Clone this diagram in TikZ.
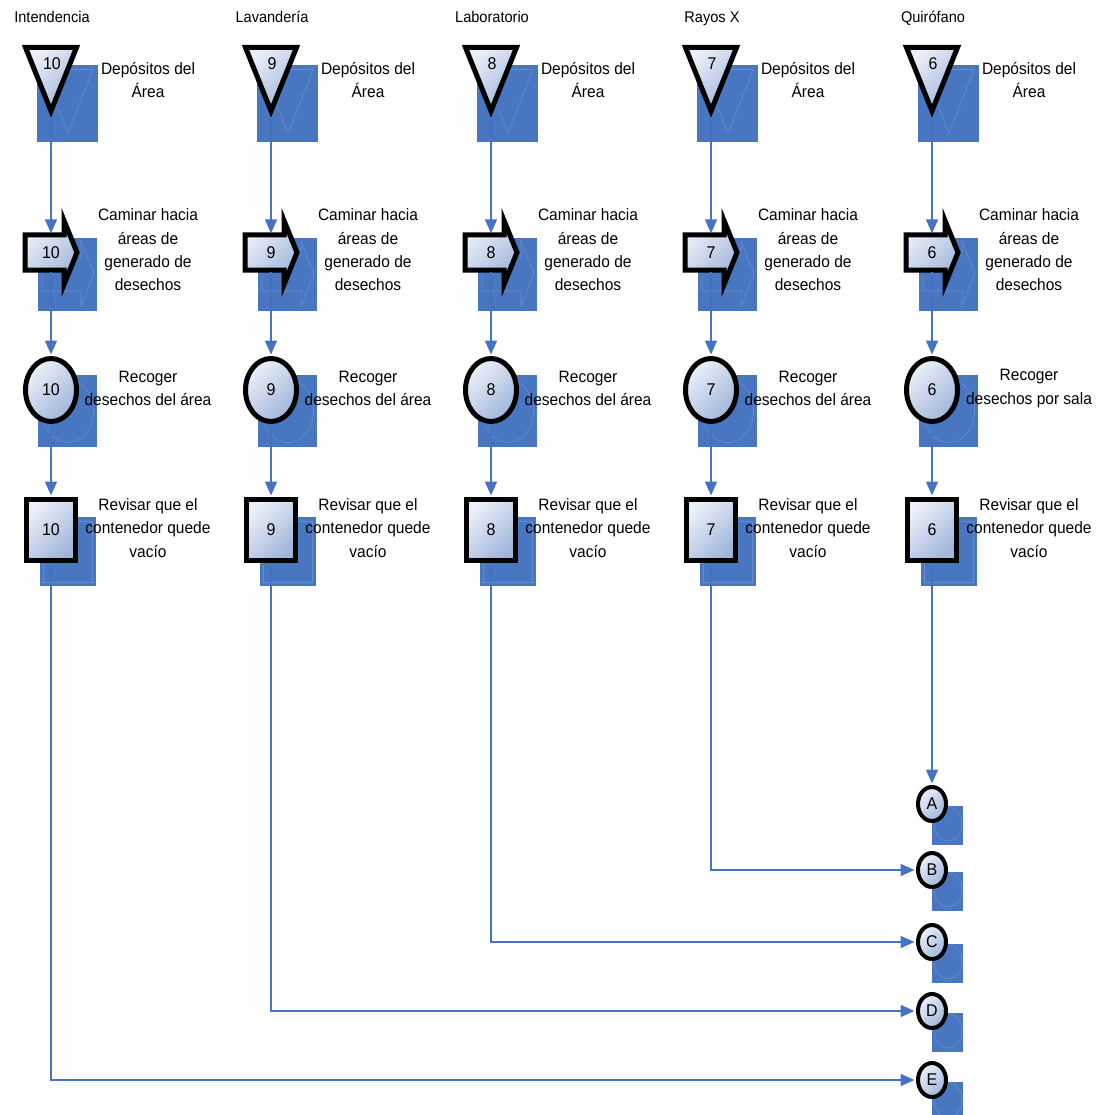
\documentclass[tikz,border=0pt]{standalone}
\usepackage{fontspec}
\setmainfont[FakeStretch=0.94]{Liberation Sans}
\usetikzlibrary{arrows.meta,shapes.geometric}
\definecolor{flowblue}{RGB}{70,114,196}
\definecolor{backblue}{RGB}{72,118,192}
\definecolor{nodelight}{RGB}{236,241,249}
\definecolor{nodedark}{RGB}{160,181,218}
\tikzset{>/.tip={Triangle[length=14pt,width=12pt]},
  flow/.style={->,draw=flowblue,line width=1.8pt,shorten >=1.5pt,shorten <=1.5pt},
  bodyshade/.style={top color=nodelight,bottom color=nodedark,shading angle=45},
  shapeline/.style={draw=black,line width=5pt,bodyshade},
  backrect/.style={fill=backblue},
  ghost/.style={draw=white,opacity=.18,line width=.6pt},
  hdr/.style={anchor=base,font=\fontsize{15.5}{18}\selectfont},
  lbl/.style={align=center,font=\fontsize{16.5}{23.3}\selectfont},
  num/.style={inner sep=0pt,font=\fontsize{17}{20}\selectfont},
  endcirc/.style={ellipse,draw=black,line width=4pt,bodyshade,minimum width=28,minimum height=34,inner sep=0pt,font=\fontsize{17}{20}\selectfont}}

\begin{document}
\begin{tikzpicture}[x=1pt,y=-1pt]
\useasboundingbox (0,0) rectangle (1103,1115);

% one column per area
\foreach \x/\n/\i/\area/\what in {51/10/1/Intendencia/{desechos del área},
    271/9/2/Lavandería/{desechos del área}, 491/8/3/Laboratorio/{desechos del área},
    711/7/4/Rayos X/{desechos del área}, 932/6/5/Quirófano/{desechos por sala}} {
  \begin{scope}[shift={(\x,0)}]
  \fill[backrect] (-14,65) rectangle (47,142);
  \fill[backrect] (-13,238) rectangle (46,311);
  \fill[backrect] (-13,375) rectangle (46,447);
  \fill[backrect] (-11,517) rectangle (45,586);
  \draw[ghost] (-8,69.5) -- (42,69.5) -- (17,133) -- cycle;
  \draw[ghost] (-9,256) -- (30,256) -- (30,241) -- (43,273.5) -- (30,306) -- (30,291) -- (-9,291) -- cycle;
  \draw[ghost] (17,411) ellipse (25.5 and 31.5);
  \draw[ghost] (-8,521) rectangle (41,582);

  \node[hdr] (head\i) at (1,23) {\area};

  \path[shapeline] (-25.5,47.5) -- (25.5,47.5) -- (0,111) -- cycle;
  \node[num] (dep\i) at (1,64) {\n};
  \coordinate (tip\i) at (0,116);
  \path[shapeline] (-26,235) -- (13,235) -- (13,220.5) -- (26,252.5) -- (13,284.5) -- (13,270) -- (-26,270) -- cycle;
  \node[num,minimum width=52,minimum height=35] (walk\i) at (0,252.5) {\n};
  \node[num,ellipse,shapeline,minimum width=51,minimum height=63] (pick\i) at (0,390) {\n};
  \node[num,rectangle,shapeline,minimum width=49,minimum height=61] (check\i) at (0,530) {\n};

  \node[lbl] (deptxt\i) at (97,80) {Depósitos del\\Área};
  \node[lbl] (walktxt\i) at (97,250) {Caminar hacia\\áreas de\\generado de\\desechos};
  \node[lbl] (picktxt\i) at (97,388.5) {Recoger\\\what};
  \node[lbl] (checktxt\i) at (97,528) {Revisar que el\\contenedor quede\\vacío};

  \draw[flow] (tip\i) -- (walk\i.north);
  \draw[flow] (walk\i.south) -- (pick\i.north);
  \draw[flow] (pick\i.south) -- (check\i.north);
  \end{scope}
}

% connectors at the end
\foreach \c/\y in {A/804, B/870, C/942, D/1011, E/1080} {
  \fill[backrect] (932,\y+2) rectangle (963,\y+41);
  \draw[ghost] (948,\y+20) ellipse (14 and 17);
  \node[endcirc] (\c) at (932,\y) {\c};
}

\draw[flow] (check5.south) -- (A.north);
\draw[flow] (check4.south) |- (B.west);
\draw[flow] (check3.south) |- (C.west);
\draw[flow] (check2.south) |- (D.west);
\draw[flow] (check1.south) |- (E.west);
\end{tikzpicture}
\end{document}
